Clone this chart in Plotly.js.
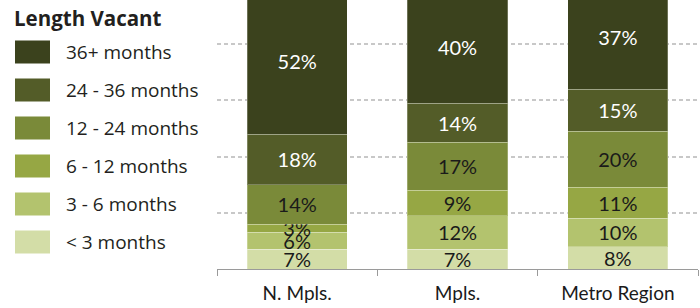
<!DOCTYPE html>
<html>
<head>
<meta charset="utf-8">
<script src="https://cdn.plot.ly/plotly-3.0.1.min.js"></script>
<style>html,body{margin:0;padding:0;background:#fff;}#chart{width:700px;height:308px;}</style>
</head>
<body>
<div id="chart"></div>
<script>
// ---- data ----
const categories = ["N. Mpls.", "Mpls.", "Metro Region"];
const seriesNames = ["< 3 months", "3 - 6 months", "6 - 12 months", "12 - 24 months", "24 - 36 months", "36+ months"];
const lt3   = [7, 7, 8];
const m3to6 = [6, 12, 10];
const m6to12 = [3, 9, 11];
const m12to24 = [14, 17, 20];
const m24to36 = [18, 14, 15];
const m36plus = [52, 40, 37];
const legendTitle = "Length Vacant";

// ---- styles ----
const colors = ["#D3DDA7", "#B3C36E", "#96A744", "#7A8A39", "#535C28", "#3B421D"];
const textColors = ["#1a1a1a", "#1a1a1a", "#1a1a1a", "#1a1a1a", "#ffffff", "#ffffff"];
const seriesValues = [lt3, m3to6, m6to12, m12to24, m24to36, m36plus];

const W = 700, H = 308;
const M = {l: 217, r: 2, t: 0, b: 39};
const PW = W - M.l - M.r, PH = H - M.t - M.b;
const px2x = p => (p - M.l) / PW;
const px2y = p => 1 - (p - M.t) / PH;

const traces = seriesValues.map((vals, i) => ({
  type: "bar",
  name: seriesNames[i],
  x: categories,
  y: vals,
  text: vals.map(v => v + "%"),
  textposition: "inside",
  insidetextanchor: "middle",
  textangle: 0,
  constraintext: "none",
  insidetextfont: {family: "Lato, 'Open Sans', sans-serif", size: 20, color: textColors[i]},
  marker: {color: colors[i], line: {color: "rgba(255,255,255,0.25)", width: 1}},
  hoverinfo: "none",
  cliponaxis: true
}));

// manual legend (large swatches)
const shapes = [];
const annotations = [];
const rowY = [52, 90, 128, 166, 204, 242]; // top-down: 36+ first
const legendOrder = seriesNames.map((n, i) => i).reverse();
legendOrder.forEach((si, r) => {
  const cy = rowY[r];
  shapes.push({
    type: "rect", xref: "paper", yref: "paper",
    x0: px2x(15), x1: px2x(50), y0: px2y(cy - 11.5), y1: px2y(cy + 11.5),
    fillcolor: colors[si], line: {width: 0}
  });
  annotations.push({
    xref: "paper", yref: "paper", x: px2x(64), y: px2y(cy),
    xanchor: "left", yanchor: "middle", showarrow: false,
    text: seriesNames[si],
    font: {family: "'Open Sans', sans-serif", size: 19, color: "#231f20"}
  });
});
annotations.push({
  xref: "paper", yref: "paper", x: px2x(12), y: px2y(18),
  xanchor: "left", yanchor: "middle", showarrow: false,
  text: "<b>" + legendTitle + "</b>",
  font: {family: "'Open Sans', sans-serif", size: 20.5, color: "#231f20"}
});

const layout = {
  width: W, height: H,
  margin: M,
  paper_bgcolor: "#fff", plot_bgcolor: "#fff",
  barmode: "stack",
  bargap: 0.375,
  showlegend: false,
  xaxis: {
    type: "category",
    showline: true, linecolor: "#9a9a9a", linewidth: 1,
    ticks: "outside", tickson: "boundaries", ticklen: 6, tickcolor: "#9a9a9a", tickwidth: 1,
    ticklabelstandoff: 7,
    tickfont: {family: "Lato, 'Open Sans', sans-serif", size: 19, color: "#1a1a1a"},
    showgrid: false, zeroline: false, fixedrange: true
  },
  yaxis: {
    range: [0, PH / 2.8125],
    dtick: 20, tick0: 0,
    showticklabels: false,
    showgrid: true, gridcolor: "#c8c8c8", gridwidth: 2, griddash: "4px,3px",
    zeroline: false, showline: false, ticks: "", fixedrange: true
  },
  shapes: shapes,
  annotations: annotations
};

Plotly.newPlot("chart", traces, layout, {staticPlot: true, displayModeBar: false});
</script>
</body>
</html>
